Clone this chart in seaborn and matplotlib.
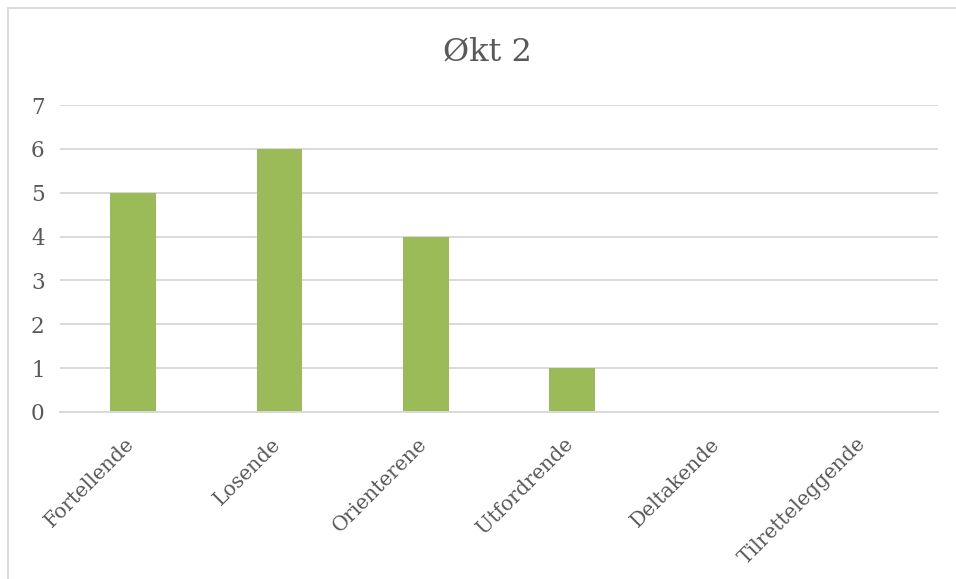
import matplotlib
matplotlib.use("Agg")
import matplotlib.pyplot as plt
import matplotlib.transforms as mtransforms
from matplotlib.lines import Line2D
import seaborn as sns
import pandas as pd

categories = ["Fortellende", "Losende", "Orienterene", "Utfordrende", "Deltakende", "Tilretteleggende"]
values = [5, 6, 4, 1, 0, 0]
yticks = [0, 1, 2, 3, 4, 5, 6, 7]
title = "Økt 2"

sns.set_theme(style="white")
plt.rcParams["font.family"] = ["DejaVu Serif", "Liberation Serif"]

W, H = 956, 579
fig = plt.figure(figsize=(W / 100, H / 100), dpi=100)
ax = fig.add_axes([60 / W, 1 - 412 / H, (938 - 60) / W, (412 - 105) / H])

df = pd.DataFrame({"cat": categories, "val": values})
sns.barplot(data=df, x="cat", y="val", color="#9BBB59", width=0.31, ax=ax,
            saturation=1, order=categories, linewidth=0)

ax.set_ylim(0, 7)
ax.set_xlim(-0.5, len(categories) - 0.5)
ax.set_yticks(yticks)
ax.set_yticklabels([str(t) for t in yticks])
ax.yaxis.grid(True, color="#D9D9D9", linewidth=1.4)
ax.set_axisbelow(True)
for s in ["top", "right", "left"]:
    ax.spines[s].set_visible(False)
ax.spines["bottom"].set_color("#D9D9D9")
ax.spines["bottom"].set_linewidth(1.4)
ax.set_xlabel("")
ax.set_ylabel("")
ax.tick_params(axis="y", length=0, pad=11, labelsize=15.5, labelcolor="#595959")
ax.tick_params(axis="x", length=0, pad=16, labelsize=14.6, labelcolor="#595959")
offset = mtransforms.ScaledTranslation(5 / 100, 0, fig.dpi_scale_trans)
for lbl in ax.get_xticklabels():
    lbl.set_rotation(45)
    lbl.set_ha("right")
    lbl.set_va("top")
    lbl.set_transform(lbl.get_transform() + offset)

fig.text(487 / W, 1 - 52 / H, title, ha="center", va="center", fontsize=23, color="#595959")

# outer chart border
fig.add_artist(Line2D([8 / W, 8 / W], [1 - 8 / H, 0], transform=fig.transFigure, color="#D9D9D9", lw=1.4))
fig.add_artist(Line2D([8 / W, 1], [1 - 8 / H, 1 - 8 / H], transform=fig.transFigure, color="#D9D9D9", lw=1.4))

fig.savefig("out.png", dpi=100)
